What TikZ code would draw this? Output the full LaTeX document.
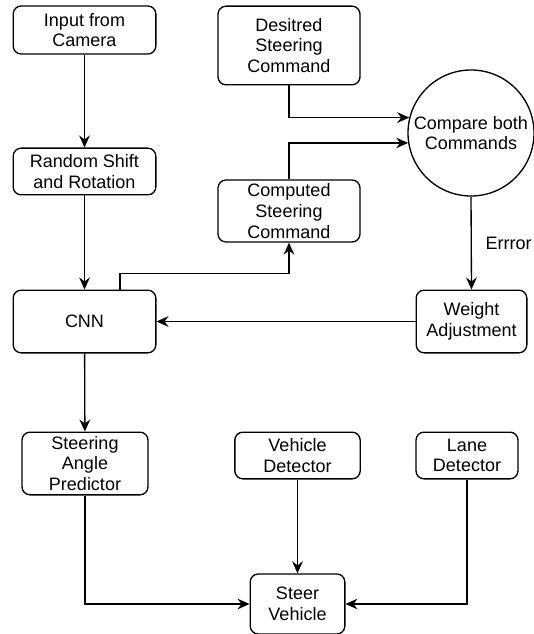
\documentclass[tikz,border=0pt]{standalone}
\usepackage{fontspec}
\setmainfont{Liberation Sans}
\usetikzlibrary{arrows.meta}

\tikzset{
  box/.style={draw, rounded corners=6pt, line width=1pt, align=center,
              inner sep=0pt, font=\fontsize{13.5}{15.5}\selectfont},
  arr/.style={line width=1pt, -{Stealth[length=9pt, width=8pt, inset=3pt]}}
}

\begin{document}
\begin{tikzpicture}[x=0.75pt, y=-0.75pt]
\useasboundingbox (0,0) rectangle (534,634);

% left column
\node[box, minimum width=107pt, minimum height=36pt] (input) at (84.5,30) {Input from\\Camera};
\node[box, minimum width=107pt, minimum height=35pt] (random) at (84.5,171.5) {Random Shift\\and Rotation};
\node[box, minimum width=107pt, minimum height=47pt] (cnn) at (84.5,321.5) {CNN};
\node[box, minimum width=94.5pt, minimum height=47pt] (predictor) at (85,463.5) {Steering\\Angle\\Predictor};

% middle and right
\node[box, minimum width=106.5pt, minimum height=59pt] (desired) at (289,45.5) {Desitred\\Steering\\Command};
\node[box, minimum width=106.5pt, minimum height=46.5pt] (computed) at (289,211) {Computed\\Steering\\Command};
\node[draw, circle, line width=1pt, minimum size=94.5pt, inner sep=0pt, align=center,
      font=\fontsize{13.5}{15.5}\selectfont] (compare) at (471,133) {Compare both\\Commands};
\node[box, minimum width=83pt, minimum height=47pt] (weight) at (471.5,321.5) {Weight\\Adjustment};
\node[box, minimum width=94pt, minimum height=35pt] (vehicle) at (297.5,455.5) {Vehicle\\Detector};
\node[box, minimum width=76.5pt, minimum height=35pt] (lane) at (467,455.5) {Lane\\Detector};
\node[box, minimum width=71pt, minimum height=45pt] (steer) at (297.5,604) {Steer\\Vehicle};

\draw[arr] (input) -- (random);
\draw[arr] (random) -- (cnn);
\draw[arr] (desired.south) |- (compare.166);
\draw[arr] (computed.north) |- (compare.189);
\draw[arr] (compare.south) -- node[right, xshift=7pt, font=\fontsize{13.5}{15.5}\selectfont] {Errror} (weight.north);
\draw[arr] (weight.west) -- (cnn.east);
\draw[arr] ([xshift=26.6pt]cnn.north) -- ++(0,-16) -| (computed.south);
\draw[arr] (cnn) -- (predictor);
\draw[arr] (predictor.south) |- (steer.west);
\draw[arr] (vehicle.south) -- (steer.north);
\draw[arr] (lane.south) |- (steer.east);

\end{tikzpicture}
\end{document}
